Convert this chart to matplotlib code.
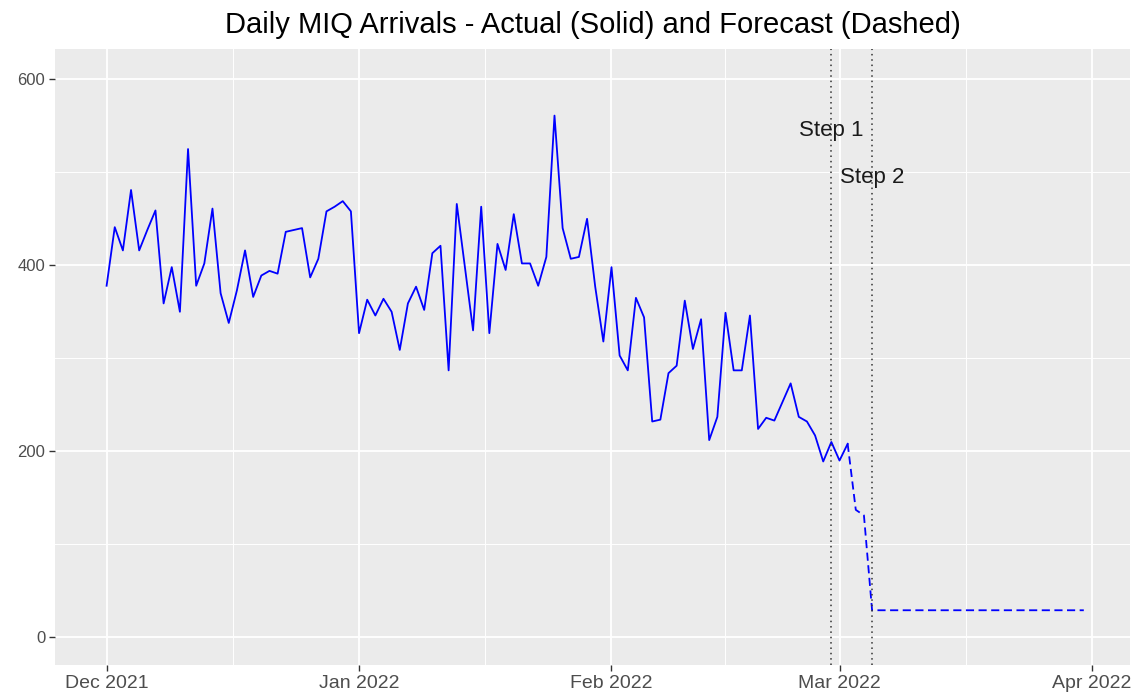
import datetime as dt
import matplotlib
matplotlib.use("Agg")
import matplotlib.pyplot as plt

# daily arrivals, actual: 1 Dec 2021 .. 2 Mar 2022
actual_start = dt.date(2021, 12, 1)
actual_vals = [
    378, 441, 416, 481, 416, 438, 459, 359, 398, 350, 525, 378, 402, 461, 370, 338,
    373, 416, 366, 389, 394, 391, 436, 438, 440, 387, 407, 458, 463, 469, 458,   # Dec
    327, 363, 346, 364, 350, 309, 359, 377, 352, 413, 421, 287, 466, 398, 330, 463,
    327, 423, 395, 455, 402, 402, 378, 409, 561, 440, 407, 409, 450, 377, 318,   # Jan
    398, 303, 287, 365, 344, 232, 234, 284, 292, 362, 310, 342, 212, 237, 349, 287,
    287, 346, 224, 236, 233, 253, 273, 237, 232, 217, 189, 210,                  # Feb
    190, 208,                                                                    # Mar
]

# forecast: 2 Mar 2022 .. 31 Mar 2022
forecast_start = dt.date(2022, 3, 2)
forecast_vals = [
    208, 137, 131, 29, 29, 29, 29, 29, 29, 29, 29, 29, 29, 29, 29,
    29, 29, 29, 29, 29, 29, 29, 29, 29, 29, 29, 29, 29, 29, 29,
]

steps = [dt.date(2022, 2, 28), dt.date(2022, 3, 5)]
step_labels = ["Step 1", "Step 2"]
step_label_y = [545, 494]

x_ticks = [dt.date(2021, 12, 1), dt.date(2022, 1, 1), dt.date(2022, 2, 1),
           dt.date(2022, 3, 1), dt.date(2022, 4, 1)]
x_ticklabels = ["Dec 2021", "Jan 2022", "Feb 2022", "Mar 2022", "Apr 2022"]
y_ticks = [0, 200, 400, 600]

act_dates = [actual_start + dt.timedelta(days=i) for i in range(len(actual_vals))]
fc_dates = [forecast_start + dt.timedelta(days=i) for i in range(len(forecast_vals))]

plt.rcParams["font.family"] = ["Liberation Sans", "DejaVu Sans"]

fig = plt.figure(figsize=(11.37, 6.95), dpi=100)
ax = fig.add_axes([0.0484, 0.043, 0.9454, 0.887])
ax.set_facecolor("#EBEBEB")
for s in ax.spines.values():
    s.set_visible(False)

# minor grid (midpoints) then major
minor_x = [dt.datetime(2021, 12, 16, 12), dt.datetime(2022, 1, 16, 12),
           dt.datetime(2022, 2, 15), dt.datetime(2022, 3, 16, 12)]
ax.set_xticks(minor_x, minor=True)
ax.set_yticks([100, 300, 500], minor=True)
ax.grid(which="minor", color="white", linewidth=0.7)
ax.grid(which="major", color="white", linewidth=1.3)
ax.set_axisbelow(True)

ax.plot(act_dates, actual_vals, color="blue", linewidth=1.3)
ax.plot(fc_dates, forecast_vals, color="blue", linewidth=1.3, dashes=(4.5, 2.5))

for d, lab, yy in zip(steps, step_labels, step_label_y):
    ax.axvline(d, color="#333333", linestyle=(0, (1, 2.5)), linewidth=1.1)
    ax.text(d, yy, lab, ha="center", va="center", fontsize=16, color="#1a1a1a")

ax.set_xlim(dt.datetime(2021, 11, 24, 16), dt.datetime(2022, 4, 5, 16))
ax.set_ylim(-30, 633)
ax.set_xticks(x_ticks)
ax.set_xticklabels(x_ticklabels)
ax.set_yticks(y_ticks)
ax.tick_params(which="major", color="#333333", length=4, width=1,
               labelcolor="#4D4D4D", pad=3)
ax.tick_params(axis="x", labelsize=14)
ax.tick_params(axis="y", labelsize=12)
ax.tick_params(which="minor", length=0)

fig.suptitle("Daily MIQ Arrivals - Actual (Solid) and Forecast (Dashed)",
             x=0.521, y=0.964, va="center", fontsize=21, color="black")

fig.savefig("out.png", dpi=100)
